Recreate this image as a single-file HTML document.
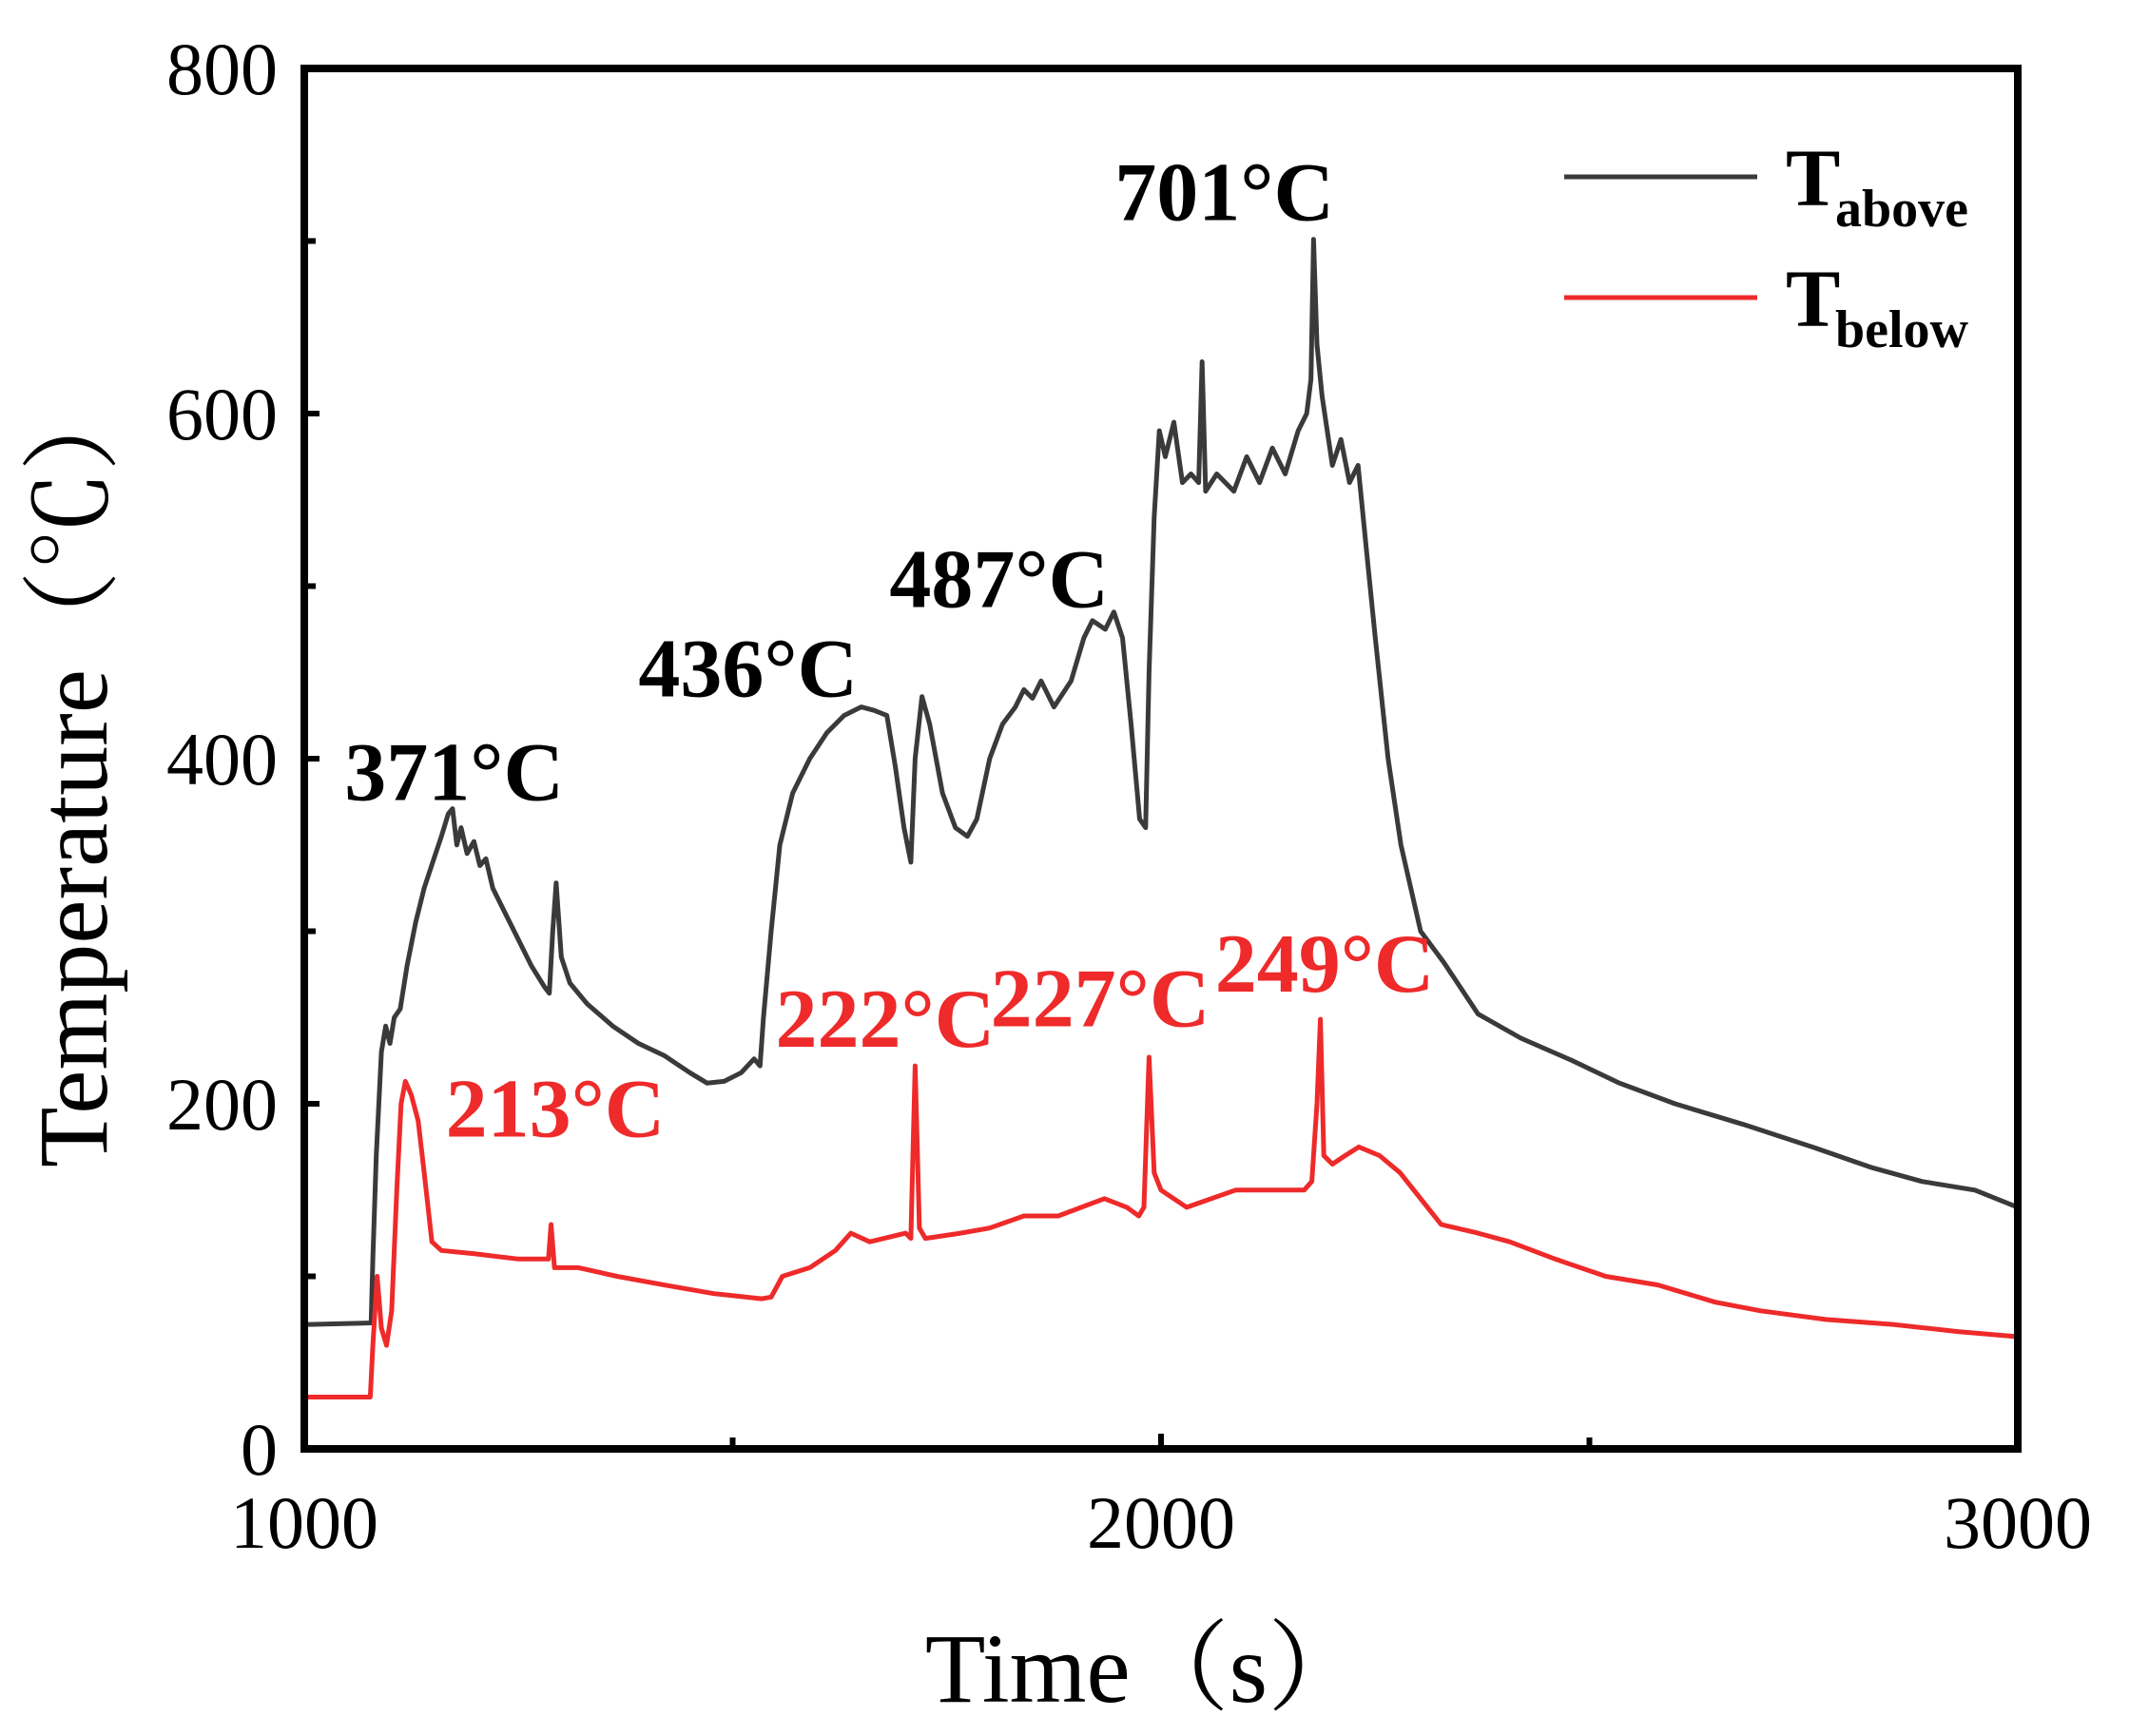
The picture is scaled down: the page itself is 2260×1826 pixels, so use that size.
<!DOCTYPE html>
<html><head><meta charset="utf-8"><style>
html,body{margin:0;padding:0;background:#fff}
svg text{font-family:"Liberation Serif","Noto Serif CJK SC",serif}
</style></head><body>
<svg id="c" width="2260" height="1821" viewBox="0 0 2260 1821" xmlns="http://www.w3.org/2000/svg">
</svg>
<script>
const aboveTimes=[1000,1078,1080,1084,1090,1095,1100,1105,1112,1120,1130,1140,1150,1160,1168,1173,1178,1183,1190,1198,1205,1212,1220,1235,1250,1265,1280,1286,1290,1294,1300,1310,1330,1360,1390,1420,1450,1470,1490,1510,1525,1532,1536,1545,1555,1570,1590,1610,1630,1650,1665,1680,1690,1700,1708,1713,1721,1730,1745,1760,1774,1785,1800,1815,1830,1840,1850,1860,1875,1895,1910,1920,1935,1945,1955,1965,1975,1982,1986,1992,1998,2005,2015,2025,2035,2044,2048,2052,2065,2085,2100,2115,2130,2145,2160,2170,2175,2178,2182,2188,2200,2210,2220,2230,2240,2250,2265,2280,2303,2330,2370,2420,2480,2535,2600,2680,2760,2830,2888,2950,3000];
const aboveVals=[72,73,110,170,230,245,235,250,255,280,305,325,340,355,368,371,350,360,345,352,338,342,325,310,295,280,268,264,300,328,285,270,258,245,235,228,218,212,213,218,226,222,250,300,350,380,400,415,425,430,428,425,395,360,340,400,436,420,380,360,355,365,400,420,430,440,435,445,430,445,470,480,475,485,470,420,365,360,450,540,590,575,595,560,565,560,630,555,565,555,575,560,580,565,590,600,620,701,640,610,570,585,560,570,520,470,400,350,300,282,252,238,225,212,200,188,175,163,155,150,140];
const belowTimes=[1000,1077,1080,1085,1090,1096,1102,1108,1113,1118,1125,1133,1140,1149,1160,1200,1250,1285,1288,1292,1320,1365,1420,1478,1534,1545,1558,1590,1620,1638,1660,1702,1708,1713,1718,1725,1766,1800,1840,1880,1934,1960,1974,1980,1986,1992,2000,2030,2087,2130,2167,2176,2182,2186,2190,2200,2215,2231,2255,2279,2303,2327,2370,2407,2460,2519,2580,2647,2700,2776,2856,2930,3000];
const belowVals=[30,30,60,100,70,60,80,150,200,213,205,190,160,120,115,113,110,110,130,105,105,100,95,90,87,88,100,105,115,125,120,125,122,222,128,122,125,128,135,135,145,140,135,140,227,160,150,140,150,150,150,155,200,249,170,165,170,175,170,160,145,130,125,120,110,100,95,85,80,75,72,68,65];
const yTickVals=[0,200,400,600,800];
const xTickVals=[1000,2000,3000];
const peakLabelsAbove=[[1175,376,"371°C"],[1518,436,"436°C"],[1811,488,"487°C"],[2074,712,"701°C"]];
const peakLabelsBelow=[[1293,181,"213°C"],[1678,233,"222°C"],[1929,245,"227°C"],[2191,265,"249°C"]];

const L=320,R=2122,T=72,B=1524;
const sx=t=>L+(t-1000)/2000*(R-L);
const sy=v=>B-v/800*(B-T);
const svg=document.getElementById('c');
const NS='http://www.w3.org/2000/svg';
function mk(tag,attrs,parent){const e=document.createElementNS(NS,tag);for(const k in attrs)e.setAttribute(k,attrs[k]);(parent||svg).appendChild(e);return e;}

function series(ts,vs,color,name){
  let d='';ts.forEach((t,i)=>{d+=(i?'L':'M')+sx(t).toFixed(1)+','+sy(vs[i]).toFixed(1);});
  const p=mk('path',{d:d,fill:'none',stroke:color,'stroke-width':5,'stroke-linejoin':'round'});
  
  
}
series(aboveTimes,aboveVals,'#3a3a3a','t-above-line');
series(belowTimes,belowVals,'#ee2a2a','t-below-line');

const fr=mk('rect',{x:L,y:T,width:R-L,height:B-T,fill:'none',stroke:'#000','stroke-width':8});



for(let v=0;v<=800;v+=100){
  const len=v%200===0?16:12;
  const tk=mk('line',{x1:L,x2:L+len,y1:sy(v),y2:sy(v),stroke:'#000','stroke-width':6});
  
  
}
yTickVals.forEach(v=>{
  const t=mk('text',{x:292,y:sy(v)+27,'text-anchor':'end','font-size':78,fill:'#000'});
  t.textContent=v;
  
  
});
for(let x=1000;x<=3000;x+=500){
  const len=x%1000===0?16:12;
  const tk=mk('line',{x1:sx(x),x2:sx(x),y1:B,y2:B-len,stroke:'#000','stroke-width':6});
  
  
}
xTickVals.forEach(v=>{
  const t=mk('text',{x:sx(v),y:1628,'text-anchor':'middle','font-size':78,fill:'#000'});
  t.textContent=v;
  
  
});

const xt=mk('text',{x:1205,y:1790,'text-anchor':'middle','font-size':104,fill:'#000'});
xt.textContent='Time（s）';


const yt=mk('text',{x:0,y:0,'text-anchor':'middle','font-size':104,fill:'#000',transform:'translate(112,810) rotate(-90)'});
yt.textContent='Temperature（℃）';



peakLabelsAbove.forEach(p=>{
  const t=mk('text',{x:sx(p[0]),y:sy(p[1]),'text-anchor':'middle','font-size':88,'font-weight':'bold',fill:'#000'});
  t.textContent=p[2];
  
  
});
peakLabelsBelow.forEach(p=>{
  const t=mk('text',{x:sx(p[0]),y:sy(p[1]),'text-anchor':'middle','font-size':88,'font-weight':'bold',fill:'#ee2a2a'});
  t.textContent=p[2];
  
  
});

function legend(y,color,sub,name){
  const g=mk('g',{});
  
  
  mk('line',{x1:1645,x2:1848,y1:y,y2:y,stroke:color,'stroke-width':5},g);
  const t=mk('text',{x:1878,y:y+30,'font-size':86,'font-weight':'bold',fill:'#000'},g);
  t.textContent='T';
  const s=mk('text',{x:1930,y:y+52,'font-size':56,'font-weight':'bold',fill:'#000'},g);
  s.textContent=sub;
}
legend(186,'#3a3a3a','above','legend-entry-above');
legend(313,'#ee2a2a','below','legend-entry-below');
</script>
</body></html>
